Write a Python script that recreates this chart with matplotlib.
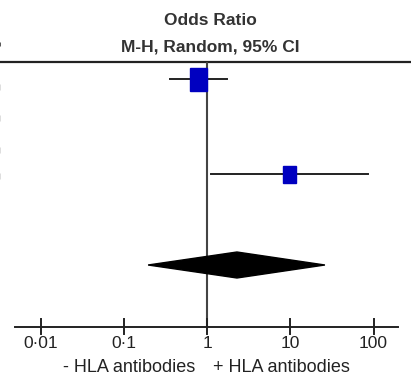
import numpy as np
import matplotlib.pyplot as plt
from matplotlib.patches import Polygon

# study rows: odds ratio with 95% CI
study_or = [0.79, 9.8]
study_lo = [0.36, 1.12]
study_hi = [1.74, 85.9]
# pooled estimate (diamond)
pooled_or = 2.29
pooled_lo = 0.196
pooled_hi = 26.1

tick_vals = [0.01, 0.1, 1, 10, 100]
tick_labels = ["0·01", "0·1", "1", "10", "100"]

W, H = 411, 389
PX = 83.25  # px per decade, x=1 sits at pixel 207


def px2x(p):
    return 10 ** ((p - 207) / PX)


plt.rcParams["font.family"] = ["Liberation Sans", "DejaVu Sans"]

fig = plt.figure(figsize=(W / 100, H / 100), dpi=100)
ax = fig.add_axes([0, 0, 1, 1])
ax.set_xscale("log")
ax.set_xlim(px2x(0), px2x(W))
ax.set_ylim(H, 0)  # y in pixel rows
ax.axis("off")

row_y = [79, 174]
sq_w = [0.105, 0.08]   # half-width in log units
sq_h = [11.5, 8.5]     # half-height in px

# header
ax.text(px2x(210), 20, "Odds Ratio", ha="center", va="center", fontsize=12.5, fontweight="bold", color="#333333")
ax.text(px2x(210), 47, "M-H, Random, 95% CI", ha="center", va="center", fontsize=12.5, fontweight="bold", color="#333333")
ax.plot([px2x(0), px2x(W)], [62, 62], color="#222222", lw=1.6, solid_capstyle="butt")

# cut-off bits of the left-hand columns
ax.plot([px2x(0.3), px2x(0.3)], [42, 46], color="#555555", lw=0.7, solid_capstyle="butt")
for yy in [87, 118, 150, 176]:
    ax.plot([px2x(0.3), px2x(0.3)], [yy - 3, yy + 3], color="#dddddd", lw=0.7, solid_capstyle="butt")

# line of no effect
ax.plot([1, 1], [63, 327], color="#444444", lw=1.5)

# studies
for i in range(len(study_or)):
    y = row_y[i]
    ax.plot([study_lo[i], study_hi[i]], [y, y], color="#222222", lw=1.4, zorder=2)
    c = np.log10(study_or[i])
    x0, x1 = 10 ** (c - sq_w[i]), 10 ** (c + sq_w[i])
    ax.fill([x0, x1, x1, x0], [y - sq_h[i], y - sq_h[i], y + sq_h[i], y + sq_h[i]], color="#0000C0", zorder=3)

# pooled diamond
yd = 265
ax.add_patch(Polygon([[pooled_lo, yd], [pooled_or, yd - 13], [pooled_hi, yd], [pooled_or, yd + 13]],
                     closed=True, color="black", zorder=3))

# x axis
ax.plot([px2x(15), px2x(398)], [327, 327], color="#222222", lw=1.4)
for v, lab in zip(tick_vals, tick_labels):
    ax.plot([v, v], [319, 334], color="#222222", lw=1.4)
    ax.text(v, 344, lab, ha="center", va="center", fontsize=12.5, color="#222222")

ax.text(px2x(195), 368, "- HLA antibodies", ha="right", va="center", fontsize=13, color="#222222")
ax.text(px2x(213), 368, "+ HLA antibodies", ha="left", va="center", fontsize=13, color="#222222")

fig.savefig("out.png", dpi=100)
